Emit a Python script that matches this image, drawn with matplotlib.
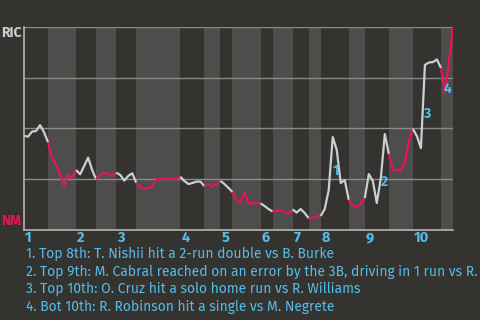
import matplotlib
matplotlib.use("Agg")
import matplotlib.pyplot as plt
import numpy as np

# win probability for RIC after each play (0 = NM wins, 1 = RIC wins)
wp = [0.464, 0.459, 0.484, 0.487, 0.516, 0.481, 0.431,
      0.353, 0.320, 0.274, 0.218, 0.271, 0.257, 0.295,
      0.274, 0.315, 0.356, 0.295, 0.249,
      0.271, 0.279, 0.274, 0.266, 0.282,
      0.271, 0.243, 0.266, 0.279, 0.233,
      0.212, 0.205, 0.205, 0.216, 0.248, 0.251, 0.251, 0.251, 0.251, 0.251, 0.262,
      0.241, 0.226, 0.231, 0.238, 0.238, 0.216,
      0.226, 0.214, 0.226, 0.242,
      0.226, 0.207, 0.187,
      0.143, 0.135, 0.187, 0.131, 0.131, 0.131, 0.131,
      0.118, 0.103, 0.091,
      0.093, 0.098, 0.086, 0.081, 0.101,
      0.086, 0.103, 0.084, 0.058,
      0.061, 0.066, 0.069,
      0.103, 0.196, 0.457, 0.394, 0.231, 0.246, 0.148,
      0.123, 0.111, 0.128, 0.157,
      0.275, 0.241, 0.133, 0.256, 0.472, 0.374,
      0.293, 0.293, 0.293, 0.339, 0.435, 0.497,
      0.462, 0.403, 0.812, 0.824, 0.826, 0.839, 0.797,
      0.674, 0.826, 1.0]

# number of plays in each half inning (top 1, bot 1, top 2, ...)
half_plays = [6, 7, 5, 5, 5, 11, 6, 4, 3, 7, 3, 5, 4, 3, 7, 4, 6, 6, 7, 3]

innings = ["1", "2", "3", "4", "5", "6", "7", "8", "9", "10"]

marks = ["1", "2", "3", "4"]
mark_x = [77.8, 89.8, 100.7, 105.7]
mark_y = [0.290, 0.236, 0.571, 0.694]

notes = [
    "1. Top 8th: T. Nishii hit a 2-run double vs B. Burke",
    "2. Top 9th: M. Cabral reached on an error by the 3B, driving in 1 run vs R.",
    "3. Top 10th: O. Cruz hit a solo home run vs R. Williams",
    "4. Bot 10th: R. Robinson hit a single vs M. Negrete",
]

BG = "#353330"
LIGHT = "#4e4d4b"
GRID = "#8c8a87"
AXIS = "#b4b4b4"
AWAY = "#c8d0d4"
HOME = "#e6145a"
BLUE = "#55bce8"

plt.rcParams["font.family"] = ["Fira Sans", "Open Sans", "DejaVu Sans"]

fig = plt.figure(figsize=(4.8, 3.2), dpi=100, facecolor=BG)
ax = fig.add_axes([24 / 480, 90 / 320, 429 / 480, 203.3 / 320])
ax.set_facecolor(BG)

bounds = np.concatenate([[0], np.cumsum(half_plays)])
x = np.arange(len(wp))
ax.set_xlim(0, bounds[-1])
ax.set_ylim(0, 1)

for i in range(len(half_plays)):
    s, e = bounds[i], bounds[i + 1]
    if i % 2 == 1:
        ax.axvspan(s, e, color=LIGHT, lw=0, zorder=0)
    ax.plot(x[s:e + 1], wp[s:e + 1], color=AWAY if i % 2 == 0 else HOME,
            lw=1.6, zorder=3, solid_capstyle="butt")

for g in [0.25, 0.5, 0.75, 1.0]:
    ax.axhline(g, color=GRID, lw=1, zorder=1)

for side in ["top", "right"]:
    ax.spines[side].set_visible(False)
for side in ["left", "bottom"]:
    ax.spines[side].set_color(AXIS)
    ax.spines[side].set_linewidth(1.2)
    ax.spines[side].set_zorder(4)
ax.set_xticks([])
ax.set_yticks([])

for n, lab in enumerate(innings):
    ax.annotate(lab, (bounds[2 * n], 0), xycoords=("data", "axes fraction"),
                xytext=(1, -8), textcoords="offset pixels", ha="left", va="center",
                color=BLUE, fontsize=10.5, fontweight="bold")

for lab, mx, my in zip(marks, mark_x, mark_y):
    ax.text(mx, my, lab, color=BLUE, fontsize=10, fontweight="bold",
            ha="center", va="center", zorder=5)

fig.text(21.5 / 480, 1 - 33 / 320, "RIC", color=AWAY, fontsize=10, fontweight="bold",
         ha="right", va="center")
fig.text(21.5 / 480, 1 - 221 / 320, "NM", color=HOME, fontsize=10, fontweight="bold",
         ha="right", va="center")

for k, t in enumerate(notes):
    fig.text(26 / 480, 1 - (254 + 17.5 * k) / 320, t, color=BLUE, fontsize=10,
             ha="left", va="center")

fig.savefig("out.png", dpi=100, facecolor=BG)
